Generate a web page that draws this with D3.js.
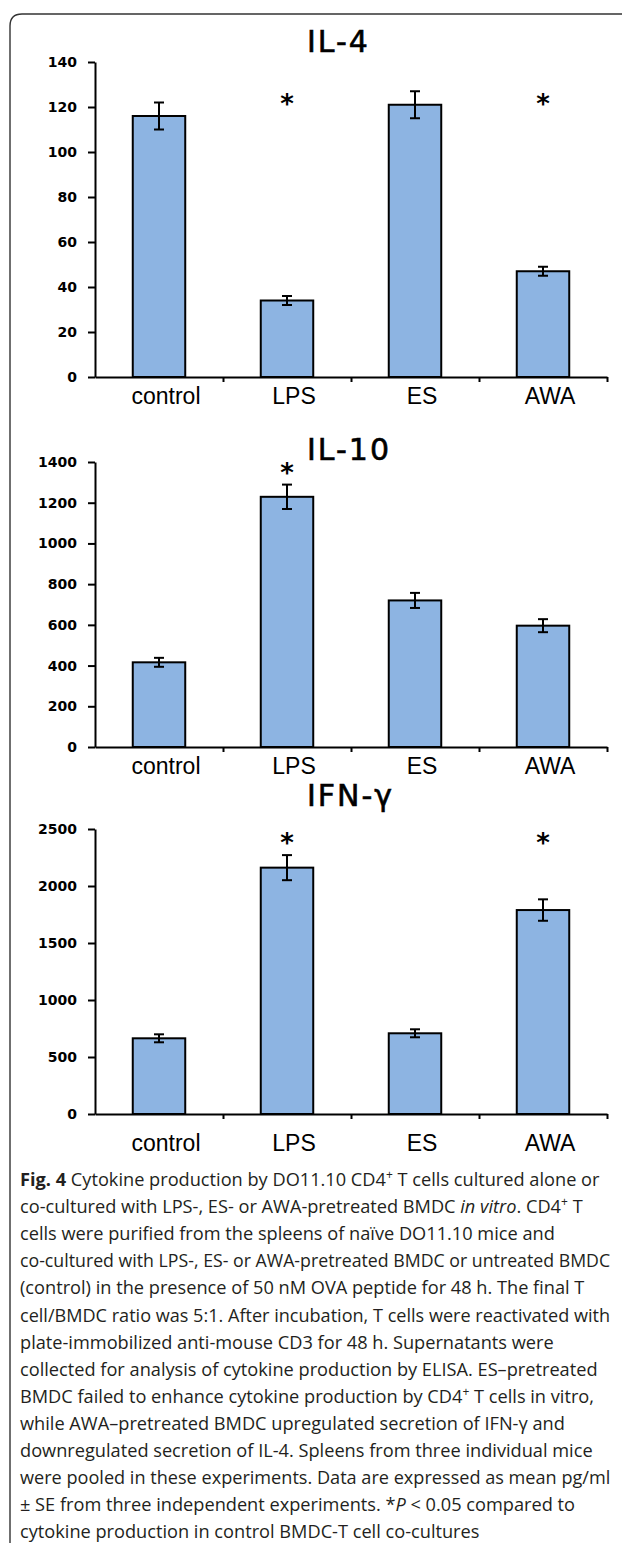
<!DOCTYPE html>
<html>
<head>
<meta charset="utf-8">
<script src="https://cdn.jsdelivr.net/npm/d3@7"></script>
<style>
  body { margin: 0; background: #fff; }
  svg { display: block; }
</style>
</head>
<body>
<svg id="fig" width="622" height="1543"></svg>
<script>
// Data (mean pg/ml, SE)
var categories = ['control', 'LPS', 'ES', 'AWA'];

var il4Values = [116, 34, 121, 47];
var il4Errors = [6, 2, 6, 2];
var il4Stars = [false, true, false, true];
var il4Ticks = [0, 20, 40, 60, 80, 100, 120, 140];

var il10Values = [416, 1229, 720, 596];
var il10Errors = [22, 60, 37, 32];
var il10Stars = [false, true, false, false];
var il10Ticks = [0, 200, 400, 600, 800, 1000, 1200, 1400];

var ifnValues = [664, 2161, 708, 1789];
var ifnErrors = [35, 110, 35, 94];
var ifnStars = [false, true, false, true];
var ifnTicks = [0, 500, 1000, 1500, 2000, 2500];

var svg = d3.select('#fig');
var W = +svg.attr('width'), H = +svg.attr('height');

svg.append('rect').attr('width', W).attr('height', H).attr('fill', '#fff');

// frame (open to the right and bottom, rounded top-left corner)
svg.append('path')
    .attr('d', 'M10,' + H + ' V26 Q10,14 22,14 H' + W)
    .attr('fill', 'none')
    .attr('stroke', '#333')
    .attr('stroke-width', 1.4);

var plotLeft = 95, plotRight = 607;
var barColor = '#8db4e2';

// one config per panel: layout only, data comes from arrays above
var panels = [
    {title: 'IL-4', values: il4Values, errors: il4Errors, stars: il4Stars, ticks: il4Ticks,
     y0: 377, yTop: 62, titleY: 52, labelY: 404, starY: 99},
    {title: 'IL-10', values: il10Values, errors: il10Errors, stars: il10Stars, ticks: il10Ticks,
     y0: 747, yTop: 462, titleY: 460, labelY: 774, starY: 468},
    {title: 'IFN-\u03b3', values: ifnValues, errors: ifnErrors, stars: ifnStars, ticks: ifnTicks,
     y0: 1114, yTop: 829, titleY: 806, labelY: 1151, starY: 838}
];

var xBand = d3.scaleBand()
    .domain(categories)
    .range([plotLeft, plotRight])
    .paddingInner(0.59)
    .paddingOuter(0.295);

var xEdge = d3.scaleLinear().domain([0, categories.length]).range([plotLeft, plotRight]);

function cx(i) { return xBand(categories[i]) + xBand.bandwidth() / 2; }

panels.forEach(function(p) {
    var g = svg.append('g');
    var tmax = p.ticks[p.ticks.length - 1];
    var y = d3.scaleLinear().domain([0, tmax]).range([p.y0, p.yTop]);

    // title
    g.append('text')
        .attr('x', 307)
        .attr('y', p.titleY)
        .attr('font-family', 'DejaVu Sans')
        .attr('font-size', 30)
        .attr('letter-spacing', 2)
        .attr('fill', '#000')
        .attr('stroke', '#000')
        .attr('stroke-width', 0.6)
        .text(p.title);

    // bars
    g.selectAll('.bar')
        .data(p.values)
        .enter().append('rect')
        .attr('class', 'bar')
        .attr('x', (d, i) => xBand(categories[i]))
        .attr('y', d => y(d))
        .attr('width', xBand.bandwidth())
        .attr('height', d => p.y0 - y(d))
        .attr('fill', barColor)
        .attr('stroke', '#000')
        .attr('stroke-width', 2);

    // error bars
    var eb = g.selectAll('.err')
        .data(p.values)
        .enter().append('g')
        .attr('class', 'err')
        .attr('stroke', '#000')
        .attr('stroke-width', 2);
    eb.append('line')
        .attr('x1', (d, i) => cx(i))
        .attr('x2', (d, i) => cx(i))
        .attr('y1', (d, i) => y(d - p.errors[i]))
        .attr('y2', (d, i) => y(d + p.errors[i]));
    [1, -1].forEach(function(s) {
        eb.append('line')
            .attr('x1', (d, i) => cx(i) - 5)
            .attr('x2', (d, i) => cx(i) + 5)
            .attr('y1', (d, i) => y(d + s * p.errors[i]))
            .attr('y2', (d, i) => y(d + s * p.errors[i]));
    });

    // y axis
    var yAxis = g.append('g')
        .attr('transform', 'translate(' + plotLeft + ',0)')
        .call(d3.axisLeft(y).tickValues(p.ticks).tickFormat(d3.format('d'))
            .tickSize(7).tickSizeOuter(0).tickPadding(11));
    yAxis.select('.domain').attr('stroke-width', 2);
    yAxis.selectAll('.tick line').attr('stroke-width', 2);
    yAxis.selectAll('.tick text')
        .attr('font-family', 'DejaVu Sans')
        .attr('font-weight', 'bold')
        .attr('font-size', 14)
        .attr('fill', '#000');

    // x axis with ticks between categories
    var xAxis = g.append('g')
        .attr('transform', 'translate(0,' + p.y0 + ')')
        .call(d3.axisBottom(xEdge).tickValues(d3.range(1, categories.length + 1))
            .tickSize(5).tickSizeOuter(0).tickFormat(''));
    xAxis.select('.domain').attr('stroke-width', 2);
    xAxis.selectAll('.tick line').attr('stroke-width', 2);

    // category labels
    g.selectAll('.cat')
        .data(categories)
        .enter().append('text')
        .attr('class', 'cat')
        .attr('x', (d, i) => cx(i) + 7)
        .attr('y', p.labelY)
        .attr('text-anchor', 'middle')
        .attr('font-family', 'Liberation Sans, Arial')
        .attr('font-size', 23)
        .attr('fill', '#000')
        .text(d => d);

    // significance stars
    var starIdx = d3.range(categories.length).filter(i => p.stars[i]);
    g.selectAll('.star')
        .data(starIdx)
        .enter().append('text')
        .attr('class', 'star')
        .attr('x', i => cx(i))
        .attr('y', p.starY + 14)
        .attr('text-anchor', 'middle')
        .attr('font-family', 'DejaVu Sans')
        .attr('font-weight', 'bold')
        .attr('font-size', 26)
        .text('*');
});

// caption
var caption = [
    [['Fig. 4', 'b'], [' Cytokine production by DO11.10 CD4'], ['+', 'sup'], [' T cells cultured alone or']],
    [['co-cultured with LPS-, ES- or AWA-pretreated BMDC '], ['in vitro', 'i'], ['. CD4'], ['+', 'sup'], [' T']],
    [['cells were purified from the spleens of na\u00efve DO11.10 mice and']],
    [['co-cultured with LPS-, ES- or AWA-pretreated BMDC or untreated BMDC']],
    [['(control) in the presence of 50 nM OVA peptide for 48 h. The final T']],
    [['cell/BMDC ratio was 5:1. After incubation, T cells were reactivated with']],
    [['plate-immobilized anti-mouse CD3 for 48 h. Supernatants were']],
    [['collected for analysis of cytokine production by ELISA. ES\u2013pretreated']],
    [['BMDC failed to enhance cytokine production by CD4'], ['+', 'sup'], [' T cells in vitro,']],
    [['while AWA\u2013pretreated BMDC upregulated secretion of IFN-\u03b3 and']],
    [['downregulated secretion of IL-4. Spleens from three individual mice']],
    [['were pooled in these experiments. Data are expressed as mean pg/ml']],
    [['\u00b1 SE from three independent experiments. *'], ['P', 'i'], [' < 0.05 compared to']],
    [['cytokine production in control BMDC-T cell co-cultures']]
];

var capX = 20, capMaxW = 590, capSize = 18.2;
var capG = svg.append('g')
    .attr('font-family', 'Open Sans')
    .attr('fill', '#231f20');

caption.forEach(function(line, li) {
    var t = capG.append('text')
        .attr('x', capX)
        .attr('y', 1186 + li * 27.1)
        .attr('font-size', capSize);
    line.forEach(function(seg, si) {
        var ts = t.append('tspan').text(seg[0]);
        if (seg[1] === 'b') ts.attr('font-weight', 'bold');
        if (seg[1] === 'i') ts.attr('font-style', 'italic');
        if (seg[1] === 'sup') ts.attr('font-size', 12).attr('dy', -7);
        else if (si > 0 && line[si - 1][1] === 'sup') ts.attr('dy', 7);
    });
    // shrink a line a little if it would run past the right edge
    var len = t.node().getComputedTextLength();
    if (len > capMaxW) {
        t.attr('font-size', capSize * capMaxW / len);
    }
});
</script>
</body>
</html>
